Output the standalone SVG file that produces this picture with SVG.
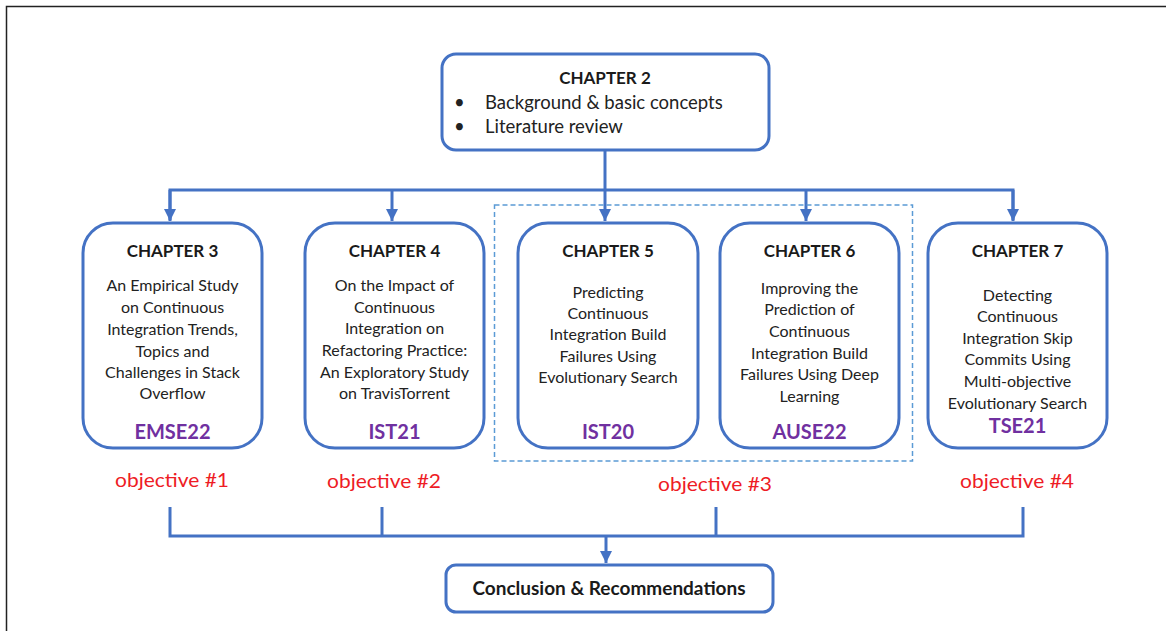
<svg xmlns="http://www.w3.org/2000/svg" width="1166" height="631" viewBox="0 0 1166 631">
<defs>
<style>
.box{fill:#fff;stroke:#4472C4;stroke-width:3}
.con{fill:none;stroke:#4472C4;stroke-width:3}
.head{font-family:Lato,"Liberation Sans",sans-serif;font-weight:bold;font-size:17px;fill:#1a1a1a;text-anchor:middle}
.concl{font-family:Lato,"Liberation Sans",sans-serif;font-weight:bold;font-size:19px;fill:#1a1a1a;text-anchor:middle}
.body{font-family:Lato,"Liberation Sans",sans-serif;font-size:16px;fill:#222;text-anchor:middle}
.pub{font-family:Lato,"Liberation Sans",sans-serif;font-weight:bold;font-size:20px;fill:#7030A0;text-anchor:middle}
.obj{font-family:Lato,"Liberation Sans",sans-serif;font-size:20px;fill:#EE1C25;text-anchor:middle}
.big{font-family:Lato,"Liberation Sans",sans-serif;font-size:18.5px;fill:#222}
</style>
<marker id="arr" viewBox="0 0 10 10" refX="10" refY="5" markerWidth="4" markerHeight="4" orient="auto" markerUnits="strokeWidth">
<path d="M0,0 L10,5 L0,10 z" fill="#4472C4"/>
</marker>
</defs>
<rect width="1166" height="631" fill="#fff"/>
<path d="M6.5,631 V6.5 H1166" fill="none" stroke="#222" stroke-width="1.5"/>

<g id="connectors">
<path class="con" d="M605,150 V190"/>
<path class="con" d="M170,220 V190 H1013 V220"/>
<path class="con" d="M170,190 V221" marker-end="url(#arr)"/>
<path class="con" d="M392,190 V221" marker-end="url(#arr)"/>
<path class="con" d="M605,190 V221" marker-end="url(#arr)"/>
<path class="con" d="M806,190 V221" marker-end="url(#arr)"/>
<path class="con" d="M1013,190 V221" marker-end="url(#arr)"/>
<path class="con" d="M170,507 V536 H1023 V507"/>
<path class="con" d="M382,507 V536"/>
<path class="con" d="M716,507 V536"/>
<path class="con" d="M606,536 V563" marker-end="url(#arr)"/>
</g>

<rect id="group-obj3" x="494.5" y="205" width="418" height="256" fill="none" stroke="#5B9BD5" stroke-width="1.5" stroke-dasharray="5,3"/>

<g id="ch2">
<rect class="box" x="442" y="54" width="327" height="96" rx="14"/>
<text class="head" x="605" y="84">CHAPTER 2</text>
<text class="big" x="454" y="109">•</text>
<text class="big" x="485" y="109">Background &amp; basic concepts</text>
<text class="big" x="454" y="133">•</text>
<text class="big" x="485" y="133">Literature review</text>
</g>

<g id="ch3">
<rect class="box" x="83" y="223" width="179" height="225" rx="30"/>
<text class="head" x="172.5" y="257">CHAPTER 3</text>
<text class="body" x="172.5" y="291">An Empirical Study</text>
<text class="body" x="172.5" y="313">on Continuous</text>
<text class="body" x="172.5" y="335">Integration Trends,</text>
<text class="body" x="172.5" y="357">Topics and</text>
<text class="body" x="172.5" y="378">Challenges in Stack</text>
<text class="body" x="172.5" y="399">Overflow</text>
<text class="pub" x="172.5" y="439">EMSE22</text>
</g>

<g id="ch4">
<rect class="box" x="305" y="223" width="179" height="225" rx="30"/>
<text class="head" x="394.5" y="257">CHAPTER 4</text>
<text class="body" x="394.5" y="291">On the Impact of</text>
<text class="body" x="394.5" y="313">Continuous</text>
<text class="body" x="394.5" y="334">Integration on</text>
<text class="body" x="394.5" y="356">Refactoring Practice:</text>
<text class="body" x="394.5" y="378">An Exploratory Study</text>
<text class="body" x="394.5" y="399">on TravisTorrent</text>
<text class="pub" x="394.5" y="439">IST21</text>
</g>

<g id="ch5">
<rect class="box" x="518" y="223" width="180" height="225" rx="30"/>
<text class="head" x="608" y="257">CHAPTER 5</text>
<text class="body" x="608" y="298">Predicting</text>
<text class="body" x="608" y="319">Continuous</text>
<text class="body" x="608" y="340">Integration Build</text>
<text class="body" x="608" y="362">Failures Using</text>
<text class="body" x="608" y="383">Evolutionary Search</text>
<text class="pub" x="608" y="439">IST20</text>
</g>

<g id="ch6">
<rect class="box" x="720" y="223" width="179" height="225" rx="30"/>
<text class="head" x="809.5" y="257">CHAPTER 6</text>
<text class="body" x="809.5" y="294">Improving the</text>
<text class="body" x="809.5" y="315">Prediction of</text>
<text class="body" x="809.5" y="337">Continuous</text>
<text class="body" x="809.5" y="359">Integration Build</text>
<text class="body" x="809.5" y="380">Failures Using Deep</text>
<text class="body" x="809.5" y="402">Learning</text>
<text class="pub" x="809.5" y="439">AUSE22</text>
</g>

<g id="ch7">
<rect class="box" x="928" y="223" width="179" height="225" rx="30"/>
<text class="head" x="1017.5" y="257">CHAPTER 7</text>
<text class="body" x="1017.5" y="301">Detecting</text>
<text class="body" x="1017.5" y="322">Continuous</text>
<text class="body" x="1017.5" y="344">Integration Skip</text>
<text class="body" x="1017.5" y="365">Commits Using</text>
<text class="body" x="1017.5" y="387">Multi-objective</text>
<text class="body" x="1017.5" y="409">Evolutionary Search</text>
<text class="pub" x="1017.5" y="433">TSE21</text>
</g>

<g id="objectives">
<text class="obj" x="172" y="487" textLength="114" lengthAdjust="spacingAndGlyphs">objective #1</text>
<text class="obj" x="384" y="488" textLength="114" lengthAdjust="spacingAndGlyphs">objective #2</text>
<text class="obj" x="715" y="491" textLength="114" lengthAdjust="spacingAndGlyphs">objective #3</text>
<text class="obj" x="1017" y="488" textLength="114" lengthAdjust="spacingAndGlyphs">objective #4</text>
</g>

<g id="conclusion">
<rect class="box" x="446" y="565" width="327" height="47" rx="10"/>
<text class="concl" x="609" y="595">Conclusion &amp; Recommendations</text>
</g>
</svg>
